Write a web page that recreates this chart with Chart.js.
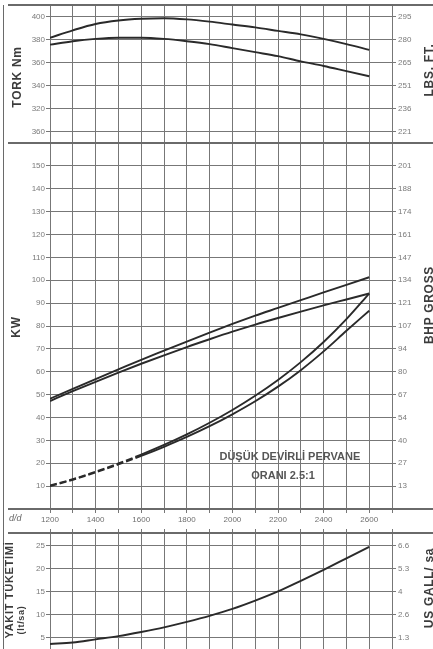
<!DOCTYPE html>
<html>
<head>
<meta charset="utf-8">
<script src="https://cdn.jsdelivr.net/npm/chart.js@4/dist/chart.umd.min.js"></script>
<style>
  html, body { margin: 0; padding: 0; background: #fff; }
  #wrap { position: relative; width: 433px; height: 649px; overflow: hidden; font-family: "Liberation Sans", Arial, sans-serif; }
  .box { position: absolute; left: 0; width: 433px; }
  .rule { position: absolute; background: #6a6a6a; }
  .side { position: absolute; white-space: nowrap; font-weight: bold; font-size: 12px; letter-spacing: 0.7px; color: #3c3c3c; transform: translate(-50%, -50%) rotate(-90deg); }
  .dd { position: absolute; left: 9px; top: 513px; font-size: 9px; font-style: italic; color: #666; }
</style>
</head>
<body>
<div id="wrap">
  <div class="box" style="top:0;height:143px"><canvas id="torqueChart"></canvas></div>
  <div class="box" style="top:143px;height:390px"><canvas id="powerChart"></canvas></div>
  <div class="box" style="top:529px;height:120px"><canvas id="fuelChart"></canvas></div>

  <div class="rule" style="left:8px;top:4px;width:425px;height:2px"></div>
  <div class="rule" style="left:8px;top:142px;width:425px;height:2px"></div>
  <div class="rule" style="left:8px;top:508px;width:425px;height:2px"></div>
  <div class="rule" style="left:8px;top:532px;width:425px;height:2px"></div>
  <div class="rule" style="left:3px;top:5px;width:1px;height:644px"></div>

  <span class="side" style="left:17px;top:77px">TORK Nm</span>
  <span class="side" style="left:429px;top:70px">LBS. FT.</span>
  <span class="side" style="left:16px;top:327px">KW</span>
  <span class="side" style="left:429px;top:305px">BHP GROSS</span>
  <span class="side" style="left:9px;top:590px;font-size:11px">YAKIT TÜKETİMİ</span>
  <span class="side" style="left:21px;top:620px;font-size:9px">(lt/sa)</span>
  <span class="side" style="left:429px;top:588px">US GALL/ sa</span>
  <span class="dd">d/d</span>
</div>

<script>
// engine speed (d/d) where the curves were read
const rpm = [1200, 1300, 1400, 1500, 1600, 1700, 1800, 1900, 2000, 2100, 2200, 2300, 2400, 2500, 2600];

// torque Nm, two curves
const torqueHigh = [381.5, 388, 393.5, 396.5, 398, 398.5, 397.5, 395.5, 393, 390.5, 387.5, 384.5, 380.5, 376, 371];
const torqueLow = [375.5, 378.5, 380.5, 381.5, 381.5, 380.5, 378.5, 376, 372.5, 369, 365.5, 361, 357, 352.5, 348];

// power kW, full load curves
const powerHigh = [48.2, 52.5, 56.8, 61, 65.2, 69.2, 73.2, 77.1, 80.9, 84.5, 87.9, 91.3, 94.7, 98, 101.3];
const powerLow = [47.2, 51.5, 55.6, 59.6, 63.5, 67.2, 70.8, 74.2, 77.5, 80.6, 83.5, 86.3, 89, 91.6, 94.2];

// propeller curves (low speed propeller 2.5:1)
const propHigh = [10.3, 13, 16.3, 19.9, 23.8, 28, 32.6, 37.7, 43.3, 49.5, 56.4, 64.2, 73, 83, 94.2];
const propLow = [10, 12.8, 16, 19.5, 23.2, 27.2, 31.5, 36.2, 41.4, 47.1, 53.5, 60.7, 68.9, 77.9, 86.7];

// fuel consumption lt/sa
const fuel = [3.7, 4.0, 4.7, 5.4, 6.3, 7.3, 8.5, 9.8, 11.3, 13.1, 15.1, 17.4, 19.8, 22.3, 24.8];

// tick values and labels
const rpmGrid = [1200, 1300, 1400, 1500, 1600, 1700, 1800, 1900, 2000, 2100, 2200, 2300, 2400, 2500, 2600, 2700];
const rpmLabels = ["1200", "1400", "1600", "1800", "2000", "2200", "2400", "2600"];

const torqueTicks = [300, 320, 340, 360, 380, 400];
const torqueLabels = ["360", "320", "340", "360", "380", "400"];
const lbsftLabels = ["221", "236", "251", "265", "280", "295"];

const kwTicks = [10, 20, 30, 40, 50, 60, 70, 80, 90, 100, 110, 120, 130, 140, 150];
const kwLabels = ["10", "20", "30", "40", "50", "60", "70", "80", "90", "100", "110", "120", "130", "140", "150"];
const bhpLabels = ["13", "27", "40", "54", "67", "80", "94", "107", "121", "134", "147", "161", "174", "188", "201"];

const fuelTicks = [5, 10, 15, 20, 25];
const fuelLabels = ["5", "10", "15", "20", "25"];
const gallLabels = ["1.3", "2.6", "4", "5.3", "6.6"];

const noteLines = ["DÜŞÜK DEVİRLİ PERVANE", "ORANI 2.5:1"];

const gridColor = "#777";
const lineColor = "#2a2a2a";
const tickFont = { family: "'Liberation Sans', Arial, sans-serif", size: 8 };

// force axis boxes to fixed sizes so all three panels line up
const fixSize = (w, h) => (axis) => {
  if (w !== null) axis.width = w;
  if (h !== null) axis.height = h;
  axis.paddingTop = 0;
  axis.paddingBottom = 0;
  axis.paddingLeft = 0;
  axis.paddingRight = 0;
};

const setTicks = (values) => (axis) => {
  axis.ticks = values.map((v) => ({ value: v }));
};

const pts = (arr) => arr.map((v, i) => ({ x: rpm[i], y: v }));

const line = (arr, extra) => Object.assign({
  data: pts(arr),
  borderColor: lineColor,
  borderWidth: 1.9,
  pointRadius: 0,
  cubicInterpolationMode: "monotone",
  fill: false,
}, extra || {});

// x axis, labels only on the middle panel
const xAxis = (showLabels, position) => ({
  type: "linear",
  position: position || "bottom",
  min: 1200,
  max: 2700,
  afterBuildTicks: setTicks(rpmGrid),
  afterFit: fixSize(null, showLabels ? 24 : (position === "top" ? 4 : 0)),
  grid: { color: gridColor, lineWidth: 1, drawTicks: showLabels || position === "top", tickLength: 4 },
  border: { display: false },
  ticks: {
    display: showLabels,
    autoSkip: false,
    maxRotation: 0,
    padding: 2,
    color: "#6f6f6f",
    font: tickFont,
    callback: (v) => (rpmLabels.includes(String(v)) ? String(v) : ""),
  },
});

const leftAxis = (min, max, values, labels) => ({
  position: "left",
  min: min,
  max: max,
  afterBuildTicks: setTicks(values),
  afterFit: fixSize(50, null),
  grid: { color: gridColor, lineWidth: 1, tickLength: 4 },
  border: { display: false },
  ticks: { autoSkip: false, padding: 1, color: "#7a7a7a", font: tickFont, callback: (v, i) => labels[i] },
});

const rightAxis = (min, max, values, labels) => ({
  position: "right",
  min: min,
  max: max,
  afterBuildTicks: setTicks(values),
  afterFit: fixSize(41, null),
  grid: { color: gridColor, lineWidth: 1, drawOnChartArea: false, tickLength: 4 },
  border: { display: true, color: gridColor, width: 1 },
  ticks: { autoSkip: false, padding: 2, crossAlign: "near", color: "#7a7a7a", font: tickFont, callback: (v, i) => labels[i] },
});

const baseOptions = (scales, padTop) => ({
  responsive: true,
  maintainAspectRatio: false,
  animation: false,
  layout: { padding: { top: padTop || 0, left: 0, right: 0, bottom: 0 } },
  plugins: { legend: { display: false }, tooltip: { enabled: false } },
  scales: scales,
});

// writing on the power panel, placed in data units
const notePlugin = {
  id: "note",
  afterDatasetsDraw(chart) {
    const { ctx, scales } = chart;
    ctx.save();
    ctx.font = "bold 11px 'Liberation Sans', Arial, sans-serif";
    ctx.fillStyle = "#555";
    ctx.textAlign = "center";
    ctx.textBaseline = "middle";
    ctx.fillText(noteLines[0], scales.x.getPixelForValue(2252), scales.y.getPixelForValue(22.9));
    ctx.fillText(noteLines[1], scales.x.getPixelForValue(2222), scales.y.getPixelForValue(14.6));
    ctx.restore();
  },
};

// top: torque
new Chart(document.getElementById("torqueChart"), {
  type: "line",
  data: { datasets: [line(torqueHigh), line(torqueLow)] },
  options: baseOptions({
    x: xAxis(false),
    y: leftAxis(290, 410, torqueTicks, torqueLabels),
    y2: rightAxis(290, 410, torqueTicks, lbsftLabels),
  }, 5),
});

// middle: power and propeller curves
const dashStart = (ctx) => (ctx.p0.parsed.x < 1600 ? [7, 3] : undefined);

new Chart(document.getElementById("powerChart"), {
  type: "line",
  data: {
    datasets: [
      line(powerHigh),
      line(powerLow),
      line(propHigh, { segment: { borderDash: dashStart } }),
      line(propLow, { segment: { borderDash: dashStart } }),
    ],
  },
  options: baseOptions({
    x: xAxis(true),
    y: leftAxis(0, 160, kwTicks, kwLabels),
    y2: rightAxis(0, 160, kwTicks, bhpLabels),
  }),
  plugins: [notePlugin],
});

// bottom: fuel consumption
new Chart(document.getElementById("fuelChart"), {
  type: "line",
  data: { datasets: [line(fuel)] },
  options: baseOptions({
    x: xAxis(false, "top"),
    y: leftAxis(2.6, 27.8, fuelTicks, fuelLabels),
    y2: rightAxis(2.6, 27.8, fuelTicks, gallLabels),
  }),
});
</script>
</body>
</html>
